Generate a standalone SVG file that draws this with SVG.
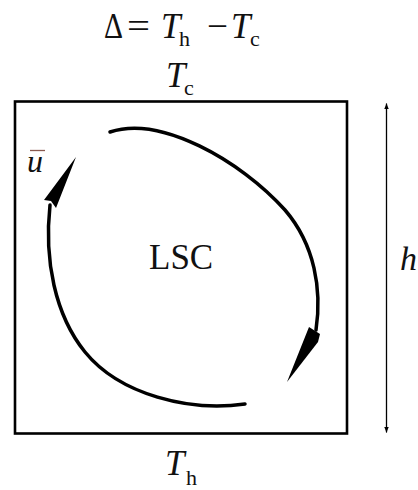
<svg xmlns="http://www.w3.org/2000/svg" width="418" height="490" viewBox="0 0 418 490">
<defs>
<marker id="ah" viewBox="0 0 10 10" refX="9" refY="5" markerWidth="6" markerHeight="6" orient="auto-start-reverse" markerUnits="userSpaceOnUse">
<path d="M0,1 L10,5 L0,9 z" fill="#000"/>
</marker>
</defs>
<rect width="418" height="490" fill="#fff"/>
<g id="cell">
<rect x="15" y="101.5" width="332" height="332" fill="none" stroke="#000" stroke-width="2.6"/>
</g>
<g id="title" fill="#111" font-family="Liberation Serif">
<text x="104" y="38" font-size="35" textLength="19" lengthAdjust="spacingAndGlyphs">Δ</text>
<text x="127" y="38" font-size="35" textLength="23" lengthAdjust="spacingAndGlyphs">=</text>
<text x="161" y="38" font-size="35" font-style="italic">T</text>
<text x="179" y="46" font-size="22">h</text>
<text x="207" y="38" font-size="35" textLength="21" lengthAdjust="spacingAndGlyphs">−</text>
<text x="231" y="38" font-size="35" font-style="italic">T</text>
<text x="250" y="46" font-size="22">c</text>
</g>
<g id="top-label" fill="#111" font-family="Liberation Serif">
<text x="166" y="87" font-size="35" font-style="italic">T</text>
<text x="184" y="95" font-size="22">c</text>
</g>
<g id="bottom-label" fill="#111" font-family="Liberation Serif">
<text x="165" y="475" font-size="35" font-style="italic">T</text>
<text x="186" y="485" font-size="22">h</text>
</g>
<g id="lsc" fill="#111" font-family="Liberation Serif">
<text x="149" y="269" font-size="35">LSC</text>
</g>
<g id="ubar" fill="#111" font-family="Liberation Serif">
<line x1="30" y1="150.5" x2="45" y2="150.5" stroke="#8a5a50" stroke-width="1.3"/>
<text x="27" y="172" font-size="32" font-style="italic">u</text>
</g>
<g id="height" fill="#111" font-family="Liberation Serif">
<text x="400" y="270" font-size="34" font-style="italic">h</text>
</g>
<g id="connectors" fill="none" stroke="#000" stroke-linecap="round">
<line x1="386.5" y1="104" x2="386.5" y2="432" stroke-width="1.3" marker-start="url(#ah)" marker-end="url(#ah)"/>
<path stroke-width="3.5" d="M110,132 C160,115 240,160 285,210 C315,245 322,290 316,330"/>
<polygon points="309,327 320,334 318,342 287,382" fill="#000" stroke="none"/>
<path stroke-width="3.5" d="M245,404 C190,412 120,395 85,352 C55,315 44,260 50,205"/>
<polygon points="76,157 44,200 51,201 56,208" fill="#000" stroke="none"/>
</g>
</svg>
